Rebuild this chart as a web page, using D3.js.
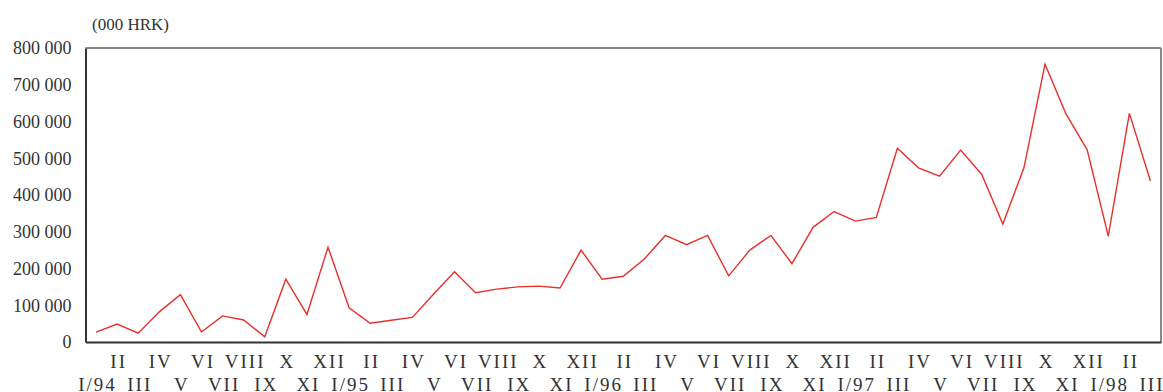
<!DOCTYPE html>
<html><head><meta charset="utf-8">
<script src="https://cdn.jsdelivr.net/npm/d3@7"></script>
<style>
body{margin:0;background:#fff;}
svg text{font-family:"Liberation Serif","Times New Roman",serif !important;fill:#333;}
</style></head>
<body><svg id="c" width="1163" height="392"></svg>
<script>
const months = ["I","II","III","IV","V","VI","VII","VIII","IX","X","XI","XII"];
const years = ["94","95","96","97","98"];
const categories = [];
years.forEach((y,yi)=>months.forEach((m,mi)=>{ if(yi<4||mi<3) categories.push(mi===0? m+"/"+y : m); }));
const values = [27000,49000,24000,82000,129000,27000,71000,60000,14000,171000,75000,258000,
  93000,51000,59000,67000,130000,191000,134000,144000,150000,152000,147000,250000,
  171000,179000,226000,290000,265000,290000,180000,250000,290000,213000,312000,355000,
  329000,339000,527000,474000,451000,522000,456000,321000,474000,756000,620000,523000,
  288000,622000,438000];
const yTicks = [0,100000,200000,300000,400000,500000,600000,700000,800000];
const unitLabel = "(000 HRK)";

const svg = d3.select("#c");
const L=85.5, R=1161, T=48, B=342;
const x = d3.scalePoint().domain(categories.map((d,i)=>i)).range([L,R]).padding(0.5);
const y = d3.scaleLinear().domain([0,800000]).range([B,T]);
const fmt = d3.formatLocale({decimal:",",thousands:" ",grouping:[3],currency:["",""]}).format(",");

// frame
svg.append("line").attr("x1",L).attr("x2",R).attr("y1",T).attr("y2",T).attr("stroke","#888").attr("stroke-width",2);
svg.append("line").attr("x1",R).attr("x2",R).attr("y1",T).attr("y2",B).attr("stroke","#888").attr("stroke-width",2);

// y axis
const ya = svg.append("g").attr("transform",`translate(${L},0)`)
  .call(d3.axisLeft(y).tickValues(yTicks).tickFormat(fmt).tickSize(0).tickPadding(14));
ya.attr("font-family",null);
ya.select(".domain").attr("stroke","#333").attr("stroke-width",2);
ya.selectAll("text").style("font-size","18px").attr("fill","#333");

// x axis
const xa = svg.append("g").attr("transform",`translate(0,${B})`)
  .call(d3.axisBottom(x).tickFormat(i=>categories[i]).tickSize(0));
xa.attr("font-family",null);
xa.select(".domain").attr("stroke","#333").attr("stroke-width",2);
xa.selectAll("text").style("font-size","19px").style("letter-spacing","2px").attr("fill","#333")
  .attr("dy",null).attr("dx",1).attr("y",(d)=> d%2===1 ? 26 : 49);

// unit label
svg.append("text").attr("x",92).attr("y",30).style("font-size","17px").text(unitLabel);

// line
svg.append("path").datum(values)
  .attr("fill","none").attr("stroke","#e8302a").attr("stroke-width",1.4)
  .attr("d", d3.line().x((d,i)=>x(i)).y(d=>y(d)));
</script></body></html>
